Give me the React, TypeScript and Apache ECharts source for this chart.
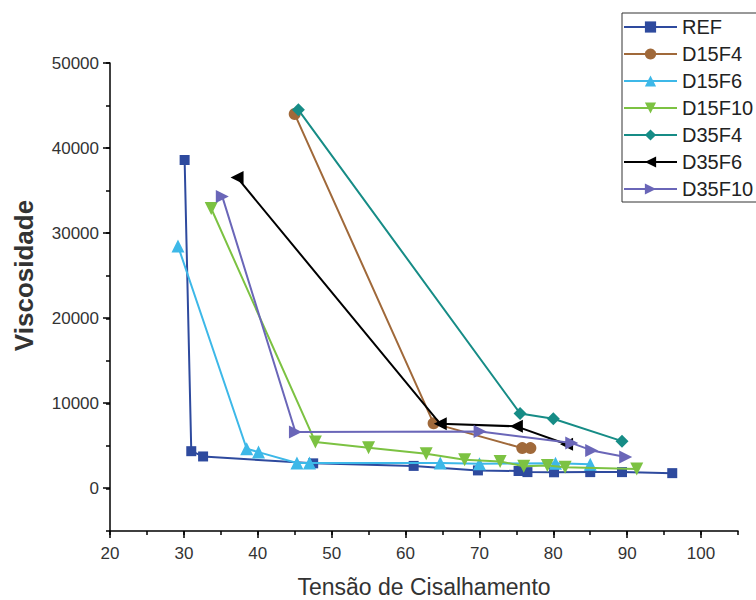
import React, { useEffect, useRef } from "react";
import * as echarts from "echarts";

const seriesNames = ["REF", "D15F4", "D15F6", "D15F10", "D35F4", "D35F6", "D35F10"];

const refX = [30.1, 31.0, 32.6, 47.5, 61.1, 69.8, 75.3, 76.5, 80.1, 85.0, 89.3, 96.1];
const refY = [38600, 4380, 3760, 2950, 2650, 2120, 2050, 1920, 1900, 1920, 1920, 1800];

const d15f4X = [45.0, 63.8, 75.8, 76.9];
const d15f4Y = [44000, 7650, 4740, 4740];

const d15f6X = [29.2, 38.5, 40.1, 45.3, 47.0, 64.7, 70.0, 80.3, 85.0];
const d15f6Y = [28500, 4670, 4270, 3000, 3000, 3000, 2900, 2950, 2850];

const d15f10X = [33.7, 47.8, 55.0, 62.8, 68.0, 72.8, 76.0, 79.2, 81.6, 91.3];
const d15f10Y = [32900, 5450, 4790, 4080, 3380, 3180, 2600, 2700, 2500, 2300];

const d35f4X = [45.5, 75.5, 80.0, 89.3];
const d35f4Y = [44500, 8820, 8200, 5560];

const d35f6X = [37.2, 64.7, 75.0, 81.8];
const d35f6Y = [36550, 7600, 7300, 5200];

const d35f10X = [35.2, 45.1, 70.1, 82.5, 85.2, 89.8];
const d35f10Y = [34300, 6630, 6700, 5330, 4470, 3700];

const xs = [refX, d15f4X, d15f6X, d15f10X, d35f4X, d35f6X, d35f10X];
const ys = [refY, d15f4Y, d15f6Y, d15f10Y, d35f4Y, d35f6Y, d35f10Y];

const colors = ["#2E4A9E", "#A0693A", "#3DB8E8", "#7CC242", "#168C86", "#000000", "#6A66B8"];
const symbols = ["rect", "circle", "triangle", "triangle", "diamond", "triangle", "triangle"];
const rotates = [0, 0, 0, 180, 0, 90, -90];
const sizes = [10, 12, 13, 13, 13, 13, 13];

const FONT = "Liberation Sans, Arial, sans-serif";

export default function App() {
  const ref = useRef<HTMLDivElement>(null);
  useEffect(() => {
    if (!ref.current) return;
    const chart = echarts.init(ref.current, null, { renderer: "svg" });
    const series = seriesNames.map((name, i) => ({
      name,
      type: "line",
      xAxisIndex: 0,
      yAxisIndex: 0,
      data: xs[i].map((x, j) => [x, ys[i][j]]),
      symbol: symbols[i],
      symbolRotate: rotates[i],
      symbolSize: sizes[i],
      showSymbol: true,
      lineStyle: { color: colors[i], width: 2 },
      itemStyle: { color: colors[i] },
      z: 2 + i,
    }));
    chart.setOption({
      animation: false,
      backgroundColor: "#ffffff",
      textStyle: { fontFamily: FONT },
      grid: [
        { left: 110, right: 18, top: 63, bottom: 69, containLabel: false, outerBoundsMode: "none" },
        { left: 110, right: 55, top: 63, bottom: 112, containLabel: false, outerBoundsMode: "none" },
      ],
      legend: {
        orient: "vertical",
        left: 622,
        top: 13,
        data: seriesNames,
        borderColor: "#333",
        borderWidth: 1,
        padding: [4, 60, 3, 1],
        itemWidth: 53,
        itemHeight: 14,
        itemGap: 7,
        textStyle: { fontSize: 20, color: "#222", fontFamily: FONT },
      },
      xAxis: [
        {
          type: "value",
          gridIndex: 0,
          min: 20,
          max: 105,
          interval: 5,
          name: "Tensão de Cisalhamento",
          nameLocation: "middle",
          nameGap: 44,
          nameTextStyle: { fontSize: 23, color: "#333", fontFamily: FONT },
          axisLine: { show: true, onZero: false, lineStyle: { color: "#000", width: 1.5 } },
          axisTick: { show: true, length: 4, lineStyle: { color: "#000", width: 1.5 } },
          axisLabel: { show: false },
          splitLine: { show: false },
        },
        {
          type: "value",
          gridIndex: 1,
          min: 20,
          max: 100,
          interval: 10,
          offset: 43,
          axisLine: { show: false, onZero: false },
          axisTick: { show: true, length: 7, lineStyle: { color: "#000", width: 1.5 } },
          axisLabel: { show: true, fontSize: 17, color: "#333", margin: 14, fontFamily: FONT },
          splitLine: { show: false },
        },
      ],
      yAxis: [
        {
          type: "value",
          gridIndex: 0,
          min: -5000,
          max: 50000,
          interval: 5000,
          axisLine: { show: true, onZero: false, lineStyle: { color: "#000", width: 1.5 } },
          axisTick: { show: true, length: 4, lineStyle: { color: "#000", width: 1.5 } },
          axisLabel: { show: false },
          splitLine: { show: false },
        },
        {
          type: "value",
          gridIndex: 1,
          min: 0,
          max: 50000,
          interval: 10000,
          name: "Viscosidade",
          nameLocation: "middle",
          nameGap: 73,
          nameTextStyle: { fontSize: 26, color: "#333", fontFamily: FONT, fontWeight: "bold" },
          axisLine: { show: false, onZero: false },
          axisTick: { show: true, length: 7, lineStyle: { color: "#000", width: 1.5 } },
          axisLabel: {
            show: true,
            fontSize: 17,
            color: "#333",
            margin: 11,
            fontFamily: FONT,
            formatter: (v: number) => String(v),
          },
          splitLine: { show: false },
        },
      ],
      series,
    });
    return () => chart.dispose();
  }, []);
  return (
    <div
      ref={ref}
      style={{ position: "fixed", left: 0, top: 0, width: 756, height: 600 }}
    />
  );
}
